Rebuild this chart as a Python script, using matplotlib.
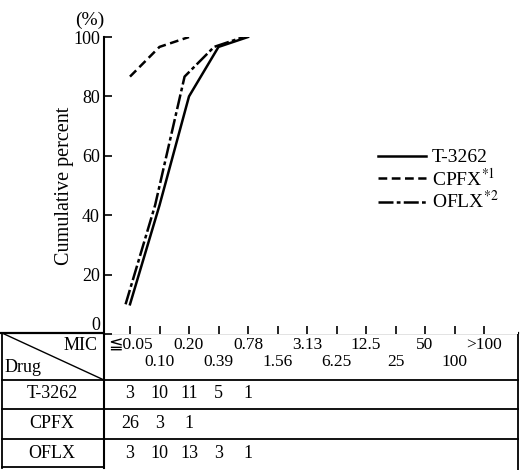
import numpy as np
import matplotlib
matplotlib.use('Agg')
import matplotlib.pyplot as plt
from matplotlib.transforms import blended_transform_factory

plt.rcParams['font.family'] = ['Liberation Serif', 'DejaVu Sans', 'Noto Sans CJK JP']
plt.rcParams['mathtext.fontset'] = 'stix'

# --- data ---
mic_labels = ['≦0.05', '0.10', '0.20', '0.39', '0.78', '1.56', '3.13',
              '6.25', '12.5', '25', '50', '100', '>100']
drugs = ['T-3262', 'CPFX', 'OFLX']
t3262_counts = [3, 10, 11, 5, 1]
cpfx_counts = [26, 3, 1]
oflx_counts = [3, 10, 13, 3, 1]
counts = [t3262_counts, cpfx_counts, oflx_counts]
legend_labels = ['T-3262', r'CPFX$^{*1}$', r'OFLX$^{*2}$']
styles = ['-', (0, (3.5, 1.8)), (0, (6, 1.3, 1.5, 1.3))]
xshift = [0.0, 0.0, -0.15]

W, H = 520, 470
fig = plt.figure(figsize=(W/100, H/100), dpi=100)

# pixel layout
ax_l, ax_r, ax_b, ax_t = 104, 518, 334, 37
ax = fig.add_axes([ax_l/W, (H-ax_b)/H, (ax_r-ax_l)/W, (ax_b-ax_t)/H])
step = 29.5
xmin = -(130-ax_l)/step
ax.set_xlim(xmin, xmin + (ax_r-ax_l)/step)
ax.set_ylim(0, 100)

for c, ls, sh, lab in zip(counts, styles, xshift, legend_labels):
    cum = np.cumsum(c)/30*100
    x = np.arange(len(c)) + sh
    ax.plot(x, cum, color='black', lw=1.8, linestyle=ls, label=lab)

for s in ['top', 'right']:
    ax.spines[s].set_visible(False)
ax.spines['left'].set_linewidth(1.5)
ax.spines['bottom'].set_visible(False)
yt = [0, 20, 40, 60, 80, 100]
ax.set_yticks(yt)
ax.set_yticklabels([''] + [str(v) for v in yt[1:]])
ax.tick_params(axis='y', direction='in', length=6, width=1.2, labelsize=13, pad=3)
ax.set_xticks(np.arange(len(mic_labels)))
ax.set_xticklabels([])
ax.tick_params(axis='x', direction='in', length=6, width=1.2)
ax.set_ylabel('Cumulative percent', fontsize=14.5)
ax.yaxis.set_label_coords((74-ax_l)/(ax_r-ax_l), 0.5)

ax.legend(loc='upper left', bbox_to_anchor=(368/W, (H-139)/H),
          bbox_transform=fig.transFigure, frameon=False, fontsize=14,
          handlelength=2.5, handletextpad=0.3, labelspacing=0.05,
          borderpad=0)

# overlay in pixel coords for table lines
ov = fig.add_axes([0, 0, 1, 1], zorder=-1)
ov.set_xlim(0, W)
ov.set_ylim(H, 0)
ov.axis('off')
ov.patch.set_alpha(0)

lw = 1.3
ov.plot([0, 518], [333, 333], color='black', lw=1.6)
for yy in [380, 409, 439]:
    ov.plot([2, 518], [yy, yy], color='black', lw=lw)
ov.plot([2, 104], [467, 467], color='black', lw=lw)
ov.plot([2, 2], [333, 468], color='black', lw=lw)
ov.plot([104, 104], [333, 468], color='black', lw=1.5)
ov.plot([518, 518], [333, 470], color='black', lw=lw)
ov.plot([2, 104], [333, 380], color='black', lw=1.0)

ov.text(100, 326, '0', ha='right', va='center', fontsize=13)
ov.text(98, 345, 'MIC', ha='right', va='center', fontsize=13)
ov.text(5, 367, 'Drug', ha='left', va='center', fontsize=13)
ov.text(90, 20, '(%)', ha='center', va='center', fontsize=14)
ov.text(484, 318, '($\\mu$g/ml)', ha='center', va='center', fontsize=13)

row_y = [394, 424, 453]
for name, yy in zip(drugs, row_y):
    ov.text(52, yy, name, ha='center', va='center', fontsize=13)

tr = blended_transform_factory(ax.transData, ov.transData)
for i, lab in enumerate(mic_labels):
    yy = 345 if i % 2 == 0 else 362
    ax.text(i, yy, lab, transform=tr, ha='center', va='center', fontsize=12.5)

for c, yy in zip(counts, row_y):
    for i, v in enumerate(c):
        ax.text(i, yy, str(v), transform=tr, ha='center', va='center', fontsize=13)

fig.savefig('out.png', dpi=100)
